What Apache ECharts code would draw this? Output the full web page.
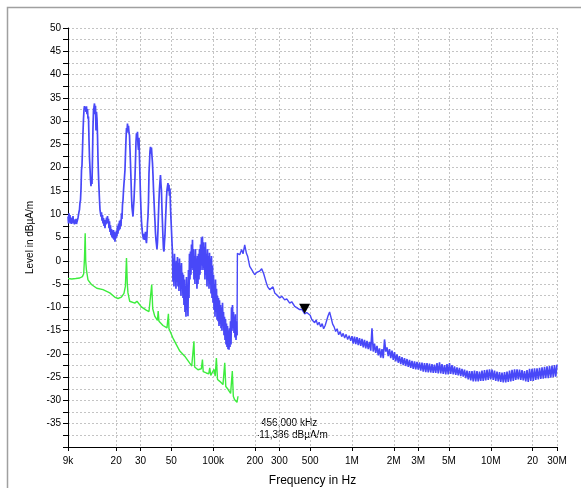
<!DOCTYPE html>
<html><head><meta charset="utf-8">
<script src="https://cdn.jsdelivr.net/npm/echarts@6/dist/echarts.min.js"></script>
<style>html,body{margin:0;padding:0;background:#fff}#c{width:581px;height:488px}</style>
</head><body><div id="c"></div>
<script>
// Frequency axis (kHz) ticks
const freqTicks = [9,20,30,50,100,200,300,500,1000,2000,3000,5000,10000,20000,30000];
const freqTickLabels = ['9k','20','30','50','100k','200','300','500','1M','2M','3M','5M','10M','20','30M'];

// Blue trace, 9 kHz - 150 kHz (kHz, dBµA/m)
const blueLowFreq = [9.00,9.08,9.15,9.23,9.30,9.38,9.46,9.54,9.62,9.70,9.78,9.86,9.94,10.02,10.11,10.19,10.28,10.36,10.45,10.54,10.62,10.71,10.80,10.89,10.98,11.07,11.17,11.26,11.35,11.45,11.54,11.64,11.74,11.83,11.93,12.03,12.13,12.23,12.33,12.44,12.54,12.64,12.75,12.86,12.96,13.07,13.18,13.29,13.40,13.51,13.62,13.74,13.85,13.97,14.08,14.20,14.32,14.44,14.56,14.68,14.80,14.92,15.05,15.18,15.30,15.43,15.56,15.69,15.82,15.95,16.08,16.22,16.35,16.49,16.62,16.76,16.90,17.04,17.19,17.33,17.47,17.62,17.76,17.91,18.06,18.21,18.36,18.52,18.67,18.83,18.98,19.14,19.30,19.46,19.62,19.79,19.95,20.12,20.28,20.45,20.62,20.80,20.97,21.14,21.32,21.50,21.68,21.86,22.04,22.22,22.41,22.59,22.78,22.97,23.16,23.36,23.55,23.75,23.94,24.14,24.34,24.55,24.75,24.96,25.16,25.37,25.59,25.80,26.01,26.23,26.45,26.67,26.89,27.11,27.34,27.57,27.80,28.03,28.26,28.50,28.74,28.97,29.22,29.46,29.70,29.95,30.20,30.45,30.71,30.96,31.22,31.48,31.74,32.01,32.27,32.54,32.81,33.08,33.36,33.64,33.92,34.20,34.49,34.77,35.06,35.35,35.65,35.94,36.24,36.55,36.85,37.16,37.47,37.78,38.09,38.41,38.73,39.05,39.38,39.71,40.04,40.37,40.71,41.05,41.39,41.73,42.08,42.43,42.78,43.14,43.50,43.86,44.23,44.59,44.96,45.34,45.72,46.10,46.48,46.87,47.26,47.65,48.05,48.45,48.85,49.26,49.67,50.08,50.50,
50.92,51.34,51.77,52.20,52.64,53.08,53.52,53.96,54.41,54.87,55.32,55.78,56.25,56.72,57.19,57.66,58.14,58.63,59.12,59.61,60.11,60.61,61.11,61.62,62.13,62.65,63.17,63.70,64.23,64.76,65.30,65.85,66.39,66.95,67.50,68.07,68.63,69.20,69.78,70.36,70.95,71.54,72.13,72.73,73.34,73.95,74.57,75.19,75.81,76.44,77.08,77.72,78.37,79.02,79.68,80.34,81.01,81.69,82.37,83.05,83.74,84.44,85.15,85.85,86.57,87.29,88.02,88.75,89.49,90.30,91.05,91.81,92.57,93.34,94.12,94.90,95.69,96.49,97.29,98.10,98.92,99.74,100.57,101.41,102.26,103.11,103.97,104.83,105.71,106.59,107.48,108.37,109.27,110.18,111.10,112.02,112.96,113.90,114.85,115.80,116.77,117.74,118.72,119.71,120.71,121.71,122.73,123.75,124.78,125.82,126.87,127.92,128.99,130.06,131.14,132.23,133.33,134.44,135.56,136.69,137.83,138.98,140.13,141.30,142.48,143.67,144.86,146.07,147.29,148.51];
const blueLowLevel = [9.5,8.0,10.2,8.4,9.8,8.0,9.3,7.9,9.0,8.2,9.6,8.0,8.9,7.8,8.6,8.0,9.0,7.9,8.4,8.1,9.2,9.0,10.5,11.0,12.5,13.0,15.5,19.5,20.5,24.0,27.5,30.5,32.5,33.2,32.4,33.0,32.0,33.2,31.5,32.6,30.5,31.0,26.0,22.0,20.0,17.5,16.0,18.0,16.5,22.0,28.5,32.5,33.0,33.8,31.5,33.3,28.0,32.0,30.5,27.0,22.0,18.5,15.5,13.0,11.0,10.8,9.5,10.4,8.6,9.8,8.0,9.2,7.5,8.8,7.0,8.5,7.8,9.3,8.0,9.6,8.2,9.0,7.0,8.5,6.2,7.6,5.5,6.8,5.0,6.5,4.8,6.6,4.5,6.2,4.1,6.0,4.8,6.5,5.2,7.5,5.8,8.0,6.5,8.6,6.8,8.8,7.5,10.2,9.0,12.0,13.0,15.0,16.6,18.0,19.5,23.0,26.0,28.5,27.5,29.5,28.0,29.0,27.5,27.0,24.0,21.0,17.5,14.0,11.5,10.5,9.5,11.5,13.0,15.5,18.0,21.5,25.5,27.4,26.0,27.7,25.0,23.8,26.4,22.0,18.0,14.0,11.0,8.5,7.0,5.8,5.2,4.6,5.8,4.5,5.5,6.2,4.5,3.8,5.5,8.0,9.5,12.5,18.8,21.0,23.5,24.5,23.0,24.3,22.5,21.0,18.5,15.5,13.0,10.5,8.5,6.0,4.5,3.5,2.5,4.0,6.6,10.0,13.1,15.5,17.0,18.4,16.5,15.0,11.0,8.0,5.0,2.5,2.0,4.0,5.5,8.5,11.0,13.5,15.2,16.0,16.7,15.0,16.3,14.0,15.5,11.6,9.0,6.6,4.0,
1.7,-4.5,0.5,-5.5,1.5,-3.0,-1.0,-6.0,0.0,-4.5,0.8,-5.5,-0.5,-6.5,0.5,-5.0,-1.0,-7.5,-0.5,-6.0,-2.5,-8.0,-3.0,-9.5,-4.0,-11.0,-5.5,-12.0,-3.5,-10.5,-6.0,-11.9,-2.0,-8.0,1.5,-4.0,2.0,-3.0,3.5,-1.5,4.5,-2.0,2.5,-4.0,1.0,-5.0,2.5,-3.5,0.5,-6.0,1.0,-5.0,1.5,-4.0,2.5,-3.0,3.5,-2.0,5.0,-1.0,5.2,-2.0,4.0,-1.5,3.0,-4.0,4.0,-3.0,1.5,-5.5,2.5,-4.0,1.0,-6.0,1.7,-5.0,0.5,-7.0,1.0,-8.0,-1.0,-9.0,-3.0,-10.5,-5.0,-12.0,-4.0,-11.0,-6.0,-12.6,-7.5,-13.0,-8.0,-14.0,-8.5,-13.5,-9.5,-14.5,-10.0,-15.0,-9.0,-14.0,-11.0,-16.0,-12.0,-17.0,-12.5,-18.0,-13.5,-18.5,-14.0,-19.0,-15.0,-19.1,-14.5,-18.5,-13.0,-18.0,-10.0,-15.0,-9.5,-14.5,-11.0,-15.5,-12.0,-16.5,-11.5,-17.0,-13.0,-16.0];

// Blue trace, 150 kHz - 1 MHz
const blueMidFreq = [148.51,149.5,151.0,155.3,160.6,164.1,168.8,173.6,177.4,183.4,189.6,199.3,205.9,216.4,223.7,231.3,241.9,247.2,255.5,270.0,277.6,287.0,301.6,311.8,327.7,338.8,356.0,368.1,386.9,399.9,420.3,434.5,456.6,472.1,
500,513,525,539,552,566,580,595,610,625,641,657,673,690,708,726,744,763,782,802,822,843,864,886,908,931,955,979,1000];
const blueMidLevel = [-16.0,1.6,2.0,1.3,2.4,1.5,3.4,1.6,0.9,-1.2,-1.9,-3.0,-2.5,-2.2,-1.7,-2.8,-4.8,-5.6,-6.2,-5.6,-6.9,-7.3,-8.0,-7.6,-8.4,-8.2,-9.1,-8.8,-9.8,-9.6,-10.5,-10.4,-11.4,-11.1,
-11.7,-12.6,-12.2,-13.3,-12.7,-13.8,-13.2,-14.2,-13.5,-14.6,-13.9,-13.6,-11.8,-11.0,-12.3,-13.6,-14.2,-15.2,-14.6,-15.9,-15.2,-16.3,-15.6,-16.6,-15.8,-16.9,-16.1,-17.2,-16.2];

// Blue trace, 1 MHz - 30 MHz (noise band: upper and lower edge samples)
const blueHighFreq = [1000,1021,1043,1065,1087,1110,1133,1157,1181,1206,1231,1257,1283,1310,1338,1366,1394,1423,1453,1483,1515,1547,1579,1612,1646,1680,1716,1752,1788,1825,1864,1903,1943,1984,2025,2067,2111,2155,2200,2246,2293,2341,2390,2440,2492,2544,2597,2651,2707,2764,2822,2881,2941,3003,3066,3130,3195,3262,3331,3401,3472,3545,3619,3695,3772,3851,3932,4014,4098,4184,4272,4362,4452,4545,4641,4738,4837,4938,5042,5148,5256,5366,5478,5593,5710,5830,5952,6077,6204,6334,6467,6603,6740,6881,7026,7173,7323,7476,7633,7793,7956,8123,8293,8467,8644,8825,9010,9199,9391,9588,9789,9994,10210,10420,10640,10860,11090,11320,11560,11800,12050,12300,12560,12820,13090,13370,13650,13940,14230,14530,14830,15140,15460,15780,16110,16450,16790,17140,17500,17870,18240,18620,19020,19420,19820,20240,20660,21090,21540,21990,22450,22920,23400,23890,24390,24900,25420,25950,26500,27060,27620,28200,28790,29390,30000];
const blueHighLevel = [-16.2,-17.8,-16.3,-17.9,-16.4,-18.1,-16.6,-18.3,-16.8,-18.6,-17.0,-18.8,-17.2,-19.0,-17.4,-19.3,-14.5,-19.5,-17.8,-19.8,-18.3,-20.3,-18.8,-20.8,-19.0,-20.9,-16.9,-19.5,-18.6,-20.5,-19.0,-20.9,-19.3,-21.3,-19.6,-21.6,-20.1,-21.9,-20.5,-22.2,-20.7,-22.4,-20.9,-22.6,-21.1,-22.8,-21.3,-23.0,-21.5,-23.2,-21.6,-23.3,-21.7,-23.4,-21.8,-23.6,-21.9,-23.8,-22.0,-23.9,-22.0,-24.0,-22.1,-24.0,-22.2,-24.1,-22.3,-24.1,-22.0,-24.2,-21.8,-24.2,-22.2,-24.3,-22.4,-24.4,-22.2,-24.4,-22.0,-24.3,-22.4,-24.4,-22.7,-24.5,-22.9,-24.6,-23.0,-24.8,-23.2,-24.9,-23.4,-25.2,-23.6,-25.5,-23.7,-25.7,-23.7,-25.9,-23.6,-25.9,-23.7,-25.9,-23.8,-25.8,-23.6,-25.8,-23.5,-25.7,-23.4,-25.6,-23.3,-25.5,-23.4,-25.6,-23.6,-25.8,-23.8,-25.9,-23.9,-26.0,-24.0,-26.1,-23.9,-26.1,-23.8,-26.0,-23.6,-25.9,-23.4,-25.8,-23.3,-25.6,-23.3,-25.5,-23.4,-25.6,-23.5,-25.7,-23.7,-25.9,-23.5,-26.0,-23.2,-25.8,-23.2,-25.8,-23.1,-25.6,-23.1,-25.5,-23.0,-25.4,-22.9,-25.3,-22.8,-25.2,-22.7,-25.2,-22.6,-25.1,-22.5,-25.0,-22.4,-24.9,-22.3];

// Green trace (kHz, dBµA/m)
const greenFreq = [9.00,9.57,10.24,10.93,11.43,11.68,11.83,11.97,12.07,12.21,12.54,13.27,14.51,16.08,18.00,19.52,20.62,21.82,22.78,23.31,23.75,24.07,24.34,25.04,27.25,28.26,30.40,32.92,34.49,35.48,36.09,36.70,37.94,39.70,40.17,40.71,43.50,46.48,47.60,48.05,48.60,51.34,54.30,57.50,62.40,67.80,70.10,72.70,73.60,77.70,82.20,83.70,84.80,89.30,92.90,94.50,96.10,98.80,101.4,103.4,105.5,107.5,111.6,117.7,121.2,123.3,127.9,133.6,137.4,139.7,142.5,148.5,151.0];
const greenLevel = [-3.8,-3.9,-3.8,-3.7,-3.4,-2.8,0.5,5.9,0.0,-1.9,-4.1,-5.1,-5.9,-6.2,-6.9,-7.8,-8.1,-7.8,-7.0,-5.5,0.6,-5.0,-6.9,-8.7,-9.1,-8.7,-9.9,-10.6,-10.9,-10.5,-5.1,-10.3,-11.9,-12.8,-10.8,-13.0,-13.9,-14.4,-11.4,-14.6,-14.8,-16.6,-18.0,-19.4,-20.5,-22.0,-22.6,-17.3,-22.8,-23.4,-23.2,-21.2,-23.8,-24.1,-24.3,-23.0,-24.6,-24.8,-23.3,-24.8,-20.9,-25.5,-25.9,-26.6,-21.9,-27.0,-27.6,-28.5,-23.7,-29.1,-29.8,-30.4,-29.1];

// Marker
const markerFreq = 456;
const markerLevel = -11.386;
const markerText1 = '456,000 kHz';
const markerText2 = '-11,386 dBµA/m';

const pair = (f, v) => f.map((x, i) => [x, v[i]]);
const FONT = 'Liberation Sans, Arial, sans-serif';
const BLUE = '#4848f8';
const GREEN = '#3ded3d';
const GRID = '#c4c4c4';

const chart = echarts.init(document.getElementById('c'), null, {renderer: 'canvas'});
chart.setOption({
  animation: false,
  backgroundColor: '#fff',
  grid: {left: 68, right: 24, top: 28, bottom: 41, outerBoundsMode: 'none'},
  xAxis: {
    type: 'log', logBase: 10, min: 9, max: 30000,
    name: 'Frequency in Hz', nameLocation: 'middle', nameGap: 28,
    nameTextStyle: {fontSize: 12, color: '#000', fontFamily: FONT},
    axisLine: {show: true, onZero: false, lineStyle: {color: '#000', width: 1}},
    axisTick: {show: true, customValues: freqTicks, length: 4, lineStyle: {color: '#000'}},
    axisLabel: {
      customValues: freqTicks, margin: 9, fontSize: 10, color: '#000', fontFamily: FONT,
      formatter: v => { const i = freqTicks.findIndex(t => Math.abs(t - v) / t < 1e-6); return i >= 0 ? freqTickLabels[i] : ''; }
    },
    splitLine: {show: true, lineStyle: {color: GRID, type: [2, 2], width: 1}},
    minorTick: {show: false}, minorSplitLine: {show: false}
  },
  yAxis: {
    type: 'value', min: -40, max: 50, interval: 5,
    name: 'Level in dBµA/m', nameLocation: 'middle', nameGap: 31, nameRotate: 90,
    nameTextStyle: {fontSize: 10, color: '#000', fontFamily: FONT},
    axisLine: {show: true, onZero: false, lineStyle: {color: '#000', width: 1}},
    axisTick: {show: true, length: 5, lineStyle: {color: '#000'}},
    minorTick: {show: true, splitNumber: 2, length: 5, lineStyle: {color: '#000'}},
    axisLabel: {margin: 7, fontSize: 10, color: '#000', fontFamily: FONT,
      formatter: v => v === -40 ? '' : String(v)},
    splitLine: {show: true, lineStyle: {color: GRID, type: [2, 2], width: 1}},
    minorSplitLine: {show: true, lineStyle: {color: GRID, type: [2, 2], width: 1}}
  },
  series: [
    {type: 'line', data: pair(blueLowFreq, blueLowLevel), showSymbol: false, symbol: 'none',
      lineStyle: {color: BLUE, width: 1.7}, z: 3},
    {type: 'line', data: pair(blueMidFreq, blueMidLevel), showSymbol: false, symbol: 'none',
      lineStyle: {color: BLUE, width: 1.4}, z: 3,
      markPoint: {symbol: 'triangle', symbolRotate: 180, symbolSize: [11, 10], symbolOffset: [0, -5],
        itemStyle: {color: '#000'}, label: {show: false}, data: [{coord: [markerFreq, markerLevel]}]}},
    {type: 'line', data: pair(blueHighFreq, blueHighLevel), showSymbol: false, symbol: 'none',
      lineStyle: {color: BLUE, width: 1.6}, z: 3},
    {type: 'line', data: pair(greenFreq, greenLevel), showSymbol: false, symbol: 'none',
      lineStyle: {color: GREEN, width: 1.4}, z: 4}
  ],
  graphic: [
    {type: 'rect', shape: {x: 7.5, y: 7.5, width: 1000, height: 1000}, silent: true,
      style: {fill: 'none', stroke: '#a0a0a0', lineWidth: 1.5}},
    {type: 'text', left: 261, top: 418, style: {text: markerText1, fontSize: 10, fill: '#000', fontFamily: FONT}},
    {type: 'text', left: 256, top: 430, style: {text: markerText2, fontSize: 10, fill: '#000', fontFamily: FONT}}
  ]
});
</script></body></html>
